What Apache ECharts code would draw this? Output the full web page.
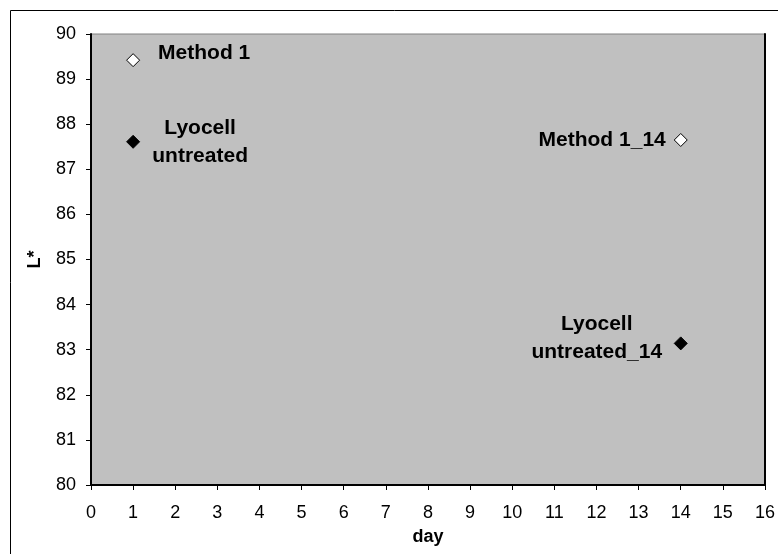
<!DOCTYPE html>
<html>
<head>
<meta charset="utf-8">
<script src="https://cdn.jsdelivr.net/npm/echarts@6/dist/echarts.min.js"></script>
<style>
html,body{margin:0;padding:0;background:#fff;}
#chart{width:778px;height:554px;}
</style>
</head>
<body>
<div id="chart"></div>
<script>
// Data
const methodDays = [1, 14];
const methodValues = [89.42, 87.65];
const methodLabels = ['Method 1', 'Method 1_14'];

const lyocellDays = [1, 14];
const lyocellValues = [87.61, 83.14];
const lyocellLabels = ['Lyocell\nuntreated', 'Lyocell\nuntreated_14'];

const xTicks = [0,1,2,3,4,5,6,7,8,9,10,11,12,13,14,15,16];
const yTicks = [80,81,82,83,84,85,86,87,88,89,90];

// label placement styles (not data)
const methodLabelStyles = [
  {align:'left', offset:[25,-7]},
  {align:'right', offset:[-15,0]}
];
const lyocellLabelStyles = [
  {align:'center', offset:[67,0]},
  {align:'center', offset:[-84,-5]}
];

const labelBase = {
  show:true, position:'inside', color:'#000', fontFamily:'Liberation Sans, Arial, sans-serif',
  fontWeight:'bold', fontSize:21, lineHeight:28, verticalAlign:'middle'
};

function buildPoints(days, vals, labels, styles){
  return days.map((d,i)=>({
    value:[d, vals[i]],
    label:Object.assign({}, labelBase, styles[i], {formatter: labels[i]})
  }));
}

const chart = echarts.init(document.getElementById('chart'), null, {renderer:'canvas'});
const fontFam = 'Liberation Sans, Arial, sans-serif';
chart.setOption({
  animation:false,
  backgroundColor:'#fff',
  grid:{left:91, top:34, right:11, bottom:69, show:true, backgroundColor:'#C0C0C0', borderColor:'#808080', borderWidth:1},
  xAxis:{
    type:'value', min:xTicks[0], max:xTicks[xTicks.length-1], interval:1,
    name:'day', nameLocation:'middle', nameGap:43,
    nameTextStyle:{fontFamily:fontFam, fontWeight:'bold', fontSize:18, color:'#000'},
    axisLine:{show:true, onZero:false, lineStyle:{color:'#000', width:2}},
    axisTick:{show:true, inside:false, length:5, lineStyle:{color:'#000'}},
    axisLabel:{fontFamily:fontFam, fontSize:18, color:'#000', margin:19},
    splitLine:{show:false}
  },
  yAxis:[{
    type:'value', min:yTicks[0], max:yTicks[yTicks.length-1], interval:1,
    name:'L*', nameLocation:'middle', nameGap:47,
    nameTextStyle:{fontFamily:fontFam, fontWeight:'bold', fontSize:18, color:'#000'},
    axisLine:{show:true, onZero:false, lineStyle:{color:'#000', width:2}},
    axisTick:{show:true, inside:false, length:5, lineStyle:{color:'#000'}},
    axisLabel:{fontFamily:fontFam, fontSize:18, color:'#000', margin:15},
    splitLine:{show:false}
  },{
    type:'value', position:'right', min:yTicks[0], max:yTicks[yTicks.length-1],
    axisLine:{show:true, onZero:false, lineStyle:{color:'#000', width:2}},
    axisTick:{show:false}, axisLabel:{show:false}, splitLine:{show:false}
  }],
  graphic:[{
    type:'rect', silent:true, z:100,
    shape:{x:10.5, y:10.5, width:900, height:700},
    style:{fill:'none', stroke:'#000', lineWidth:1}
  }],
  series:[
    {
      name:'Method 1', type:'scatter', symbol:'diamond', symbolSize:13,
      itemStyle:{color:'#fff', borderColor:'#000', borderWidth:1, opacity:1},
      data:buildPoints(methodDays, methodValues, methodLabels, methodLabelStyles)
    },
    {
      name:'Lyocell untreated', type:'scatter', symbol:'diamond', symbolSize:13,
      itemStyle:{color:'#000', borderColor:'#000', borderWidth:1, opacity:1},
      data:buildPoints(lyocellDays, lyocellValues, lyocellLabels, lyocellLabelStyles)
    }
  ]
});
</script>
</body>
</html>
